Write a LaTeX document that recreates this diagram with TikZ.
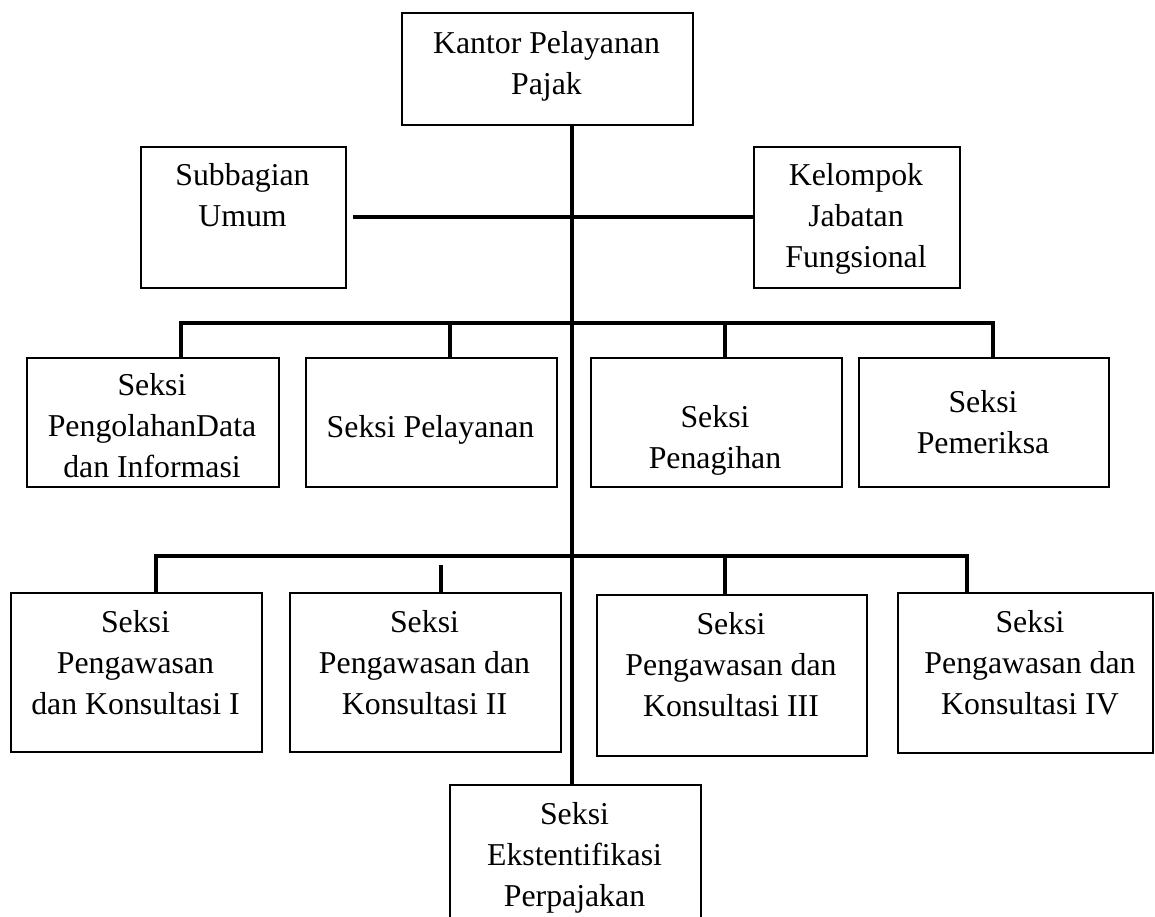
\documentclass[tikz,border=0pt]{standalone}
\usepackage{fontspec}
\setmainfont{Liberation Serif}
\tikzset{
 box/.style={draw, line width=1.9pt, inner sep=0pt, anchor=north west},
 txt/.style={inner sep=0pt, anchor=north, align=center, font=\fontsize{31.8}{41}\selectfont},
 conn/.style={line width=3.2pt},
}
\begin{document}
\begin{tikzpicture}[x=1pt,y=-1pt]
\useasboundingbox (0,0) rectangle (1155,917);
\clip (0,0) rectangle (1155,917);
% boxes
\node[box, minimum width=291pt, minimum height=112pt] (top) at (401,12) {};
\node[box, minimum width=205pt, minimum height=141pt] (sub) at (140,146) {};
\node[box, minimum width=206pt, minimum height=141pt] (kel) at (753,146) {};
\node[box, minimum width=252pt, minimum height=129pt] (b21) at (26,357) {};
\node[box, minimum width=251pt, minimum height=129pt] (b22) at (305,357) {};
\node[box, minimum width=251pt, minimum height=129pt] (b23) at (590,357) {};
\node[box, minimum width=250pt, minimum height=129pt] (b24) at (858,357) {};
\node[box, minimum width=251pt, minimum height=159pt] (b31) at (10,592) {};
\node[box, minimum width=271pt, minimum height=159pt] (b32) at (289,592) {};
\node[box, minimum width=270pt, minimum height=161pt] (b33) at (596,594) {};
\node[box, minimum width=255pt, minimum height=160pt] (b34) at (897,592) {};
\node[box, minimum width=251pt, minimum height=151pt] (bot) at (449,784) {};
% texts
\node[txt] (ttop) at (546.5,24.3) {\strut Kantor Pelayanan\\Pajak};
\node[txt] (tsub) at (242.5,156.3) {\strut Subbagian\\Umum};
\node[txt] (tkel) at (856,156.3) {\strut Kelompok\\Jabatan\\Fungsional};
\node[txt] (t21) at (152,366.3) {\strut Seksi\\PengolahanData\\dan Informasi};
\node[txt] (t22) at (430.5,408.3) {\strut Seksi Pelayanan};
\node[txt] (t23) at (715,398.3) {\strut Seksi\\Penagihan};
\node[txt] (t24) at (983,383.3) {\strut Seksi\\Pemeriksa};
\node[txt] (t31) at (135.5,603.3) {\strut Seksi\\Pengawasan\\dan Konsultasi I};
\node[txt] (t32) at (424.5,603.3) {\strut Seksi\\Pengawasan dan\\Konsultasi II};
\node[txt] (t33) at (731,605.3) {\strut Seksi\\Pengawasan dan\\Konsultasi III};
\node[txt] (t34) at (1030,603.3) {\strut Seksi\\Pengawasan dan\\Konsultasi IV};
\node[txt] (tbot) at (574.5,795.3) {\strut Seksi\\Ekstentifikasi\\Perpajakan};
% spine
\coordinate (sp1) at (572,124);
\coordinate (sp2) at (572,784);
\draw[conn] (sp1) -- (sp2);
% row 1
\coordinate (h1) at (353,217);
\draw[conn] (h1) -- (h1 -| kel.west);
% row 2
\coordinate (r2l) at (181,323);
\coordinate (r2r) at (993,323);
\draw[conn] (r2l |- b21.north) -- (r2l) -- (r2r) -- (r2r |- b24.north);
\coordinate (k22) at (450,323);
\draw[conn] (k22) -- (k22 |- b22.north);
\coordinate (k23) at (725,323);
\draw[conn] (k23) -- (k23 |- b23.north);
% row 3
\coordinate (r3l) at (156,556);
\coordinate (r3r) at (967,556);
\draw[conn] (r3l |- b31.north) -- (r3l) -- (r3r) -- (r3r |- b34.north);
\coordinate (k32) at (441,565);
\draw[conn] (k32) -- (k32 |- b32.north);
\coordinate (k33) at (725,556);
\draw[conn] (k33) -- (k33 |- b33.north);
\end{tikzpicture}
\end{document}
